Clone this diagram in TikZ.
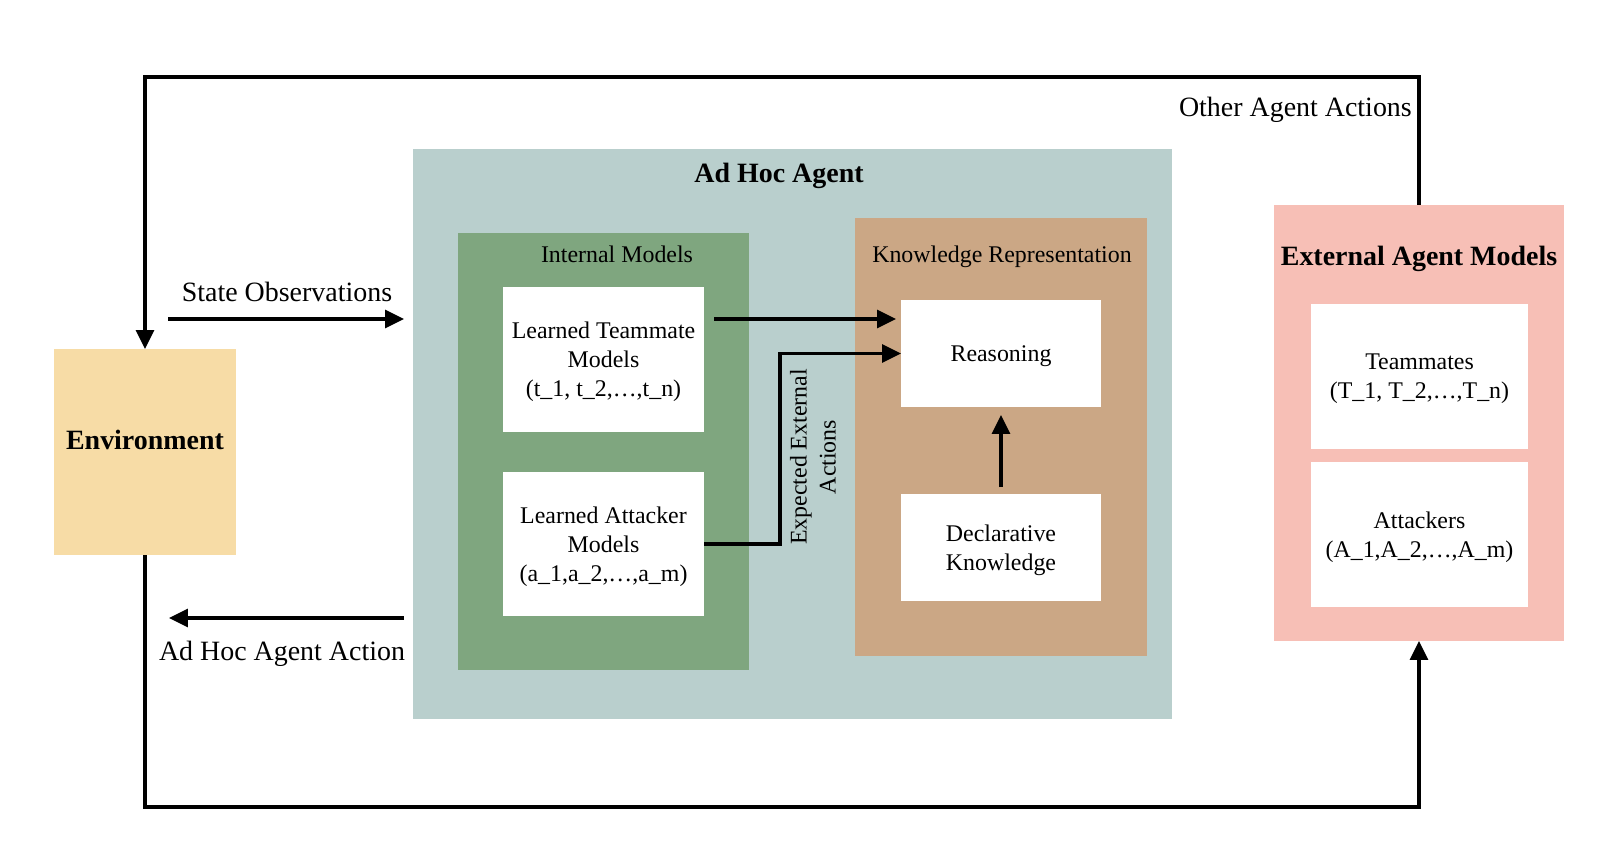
\documentclass[tikz,border=0pt]{standalone}
\usepackage{fontspec}
\setmainfont{Liberation Serif}
\usetikzlibrary{arrows.meta}

\definecolor{agentbg}{RGB}{185,207,205}
\definecolor{modelbg}{RGB}{127,166,127}
\definecolor{knowbg}{RGB}{203,167,133}
\definecolor{extbg}{RGB}{247,191,182}
\definecolor{envbg}{RGB}{247,220,166}

\newcommand{\bigtxt}{\fontsize{15.9}{19}\selectfont}
\newcommand{\smalltxt}{\fontsize{13.6}{16.5}\selectfont}

\begin{document}
\begin{tikzpicture}[x=2cm, y=-2cm, >={Triangle[length=10.8pt,width=10.2pt]},
    box/.style={inner sep=0pt, outer sep=0pt},
    card/.style={box, fill=white, align=center, font=\smalltxt, text depth=0pt},
    link/.style={line width=1.8pt}]
    \useasboundingbox (0,0) rectangle (16.24,8.62);

    % environment
    \node[box, fill=envbg, minimum width=3.64cm, minimum height=4.12cm] (env) at (1.45,4.52) {};
    \node[font=\bigtxt\bfseries] (envtxt) at (1.45,4.40) {Environment};

    % ad hoc agent and its two parts
    \node[box, fill=agentbg, minimum width=15.18cm, minimum height=11.4cm] (adhoc) at (7.925,4.34) {};
    \node[font=\bigtxt\bfseries] (adhoctxt) at (7.79,1.76) {Ad Hoc Agent};

    \node[box, fill=modelbg, minimum width=5.82cm, minimum height=8.74cm] (intm) at (6.035,4.515) {};
    \node[font=\smalltxt] (intmtxt) at (6.17,2.54) {Internal Models};
    \node[card, minimum width=4.02cm, minimum height=2.9cm] (team) at (6.035,3.595)
        {Learned Teammate\\Models\\(t\_1, t\_2,…,t\_n)};
    \node[card, minimum width=4.02cm, minimum height=2.88cm] (att) at (6.035,5.44)
        {Learned Attacker\\Models\\(a\_1,a\_2,…,a\_m)};

    \node[box, fill=knowbg, minimum width=5.84cm, minimum height=8.76cm] (know) at (10.01,4.37) {};
    \node[font=\smalltxt] (knowtxt) at (10.02,2.57) {Knowledge Representation};
    \node[card, minimum width=4cm, minimum height=2.14cm] (reason) at (10.01,3.535) {Reasoning};
    \node[card, minimum width=4cm, minimum height=2.14cm] (decl) at (10.01,5.475) {Declarative\\Knowledge};

    % external agents
    \node[box, fill=extbg, minimum width=5.8cm, minimum height=8.72cm] (ext) at (14.19,4.23) {};
    \node[font=\bigtxt\bfseries] (exttxt) at (14.19,2.59) {External Agent Models};
    \node[card, minimum width=4.34cm, minimum height=2.9cm] (tm) at (14.195,3.765) {Teammates\\(T\_1, T\_2,…,T\_n)};
    \node[card, minimum width=4.34cm, minimum height=2.9cm] (ak) at (14.195,5.345) {Attackers\\(A\_1,A\_2,…,A\_m)};

    % free ends of the outer arrows
    \coordinate (topleft) at (1.45,0.77);
    \coordinate (botleft) at (1.45,8.07);
    \coordinate (obsfrom) at (1.68,3.19);
    \coordinate (obsto) at (4.04,3.19);
    \coordinate (actfrom) at (4.04,6.18);
    \coordinate (actto) at (1.69,6.18);

    % outer loop
    \draw[link, ->] (ext.north) |- (topleft) -- (env.north);
    \draw[link, ->] (env.south) -- (botleft) -| (ext.south);
    \node[font=\bigtxt, anchor=east] (othtxt) at (14.18,1.10) {Other Agent Actions};

    % observations and actions
    \draw[link, ->] (obsfrom) -- (obsto);
    \node[font=\bigtxt] (obstxt) at (2.87,2.92) {State Observations};
    \draw[link, ->] (actfrom) -- (actto);
    \node[font=\bigtxt] (acttxt) at (2.82,6.54) {Ad Hoc Agent Action};

    % arrows inside the agent
    \draw[link, ->, shorten <=0.2cm, shorten >=0.1cm] ([yshift=0.81cm]team.east) -- ([yshift=0.69cm]reason.west);
    \draw[link, ->] (att.east) -- ++(0.76,0) |- (reason.west);
    \draw[link, ->, shorten <=0.14cm, shorten >=0.16cm] (decl.north) -- (reason.south);
    \node[font=\smalltxt, align=center, rotate=90] (exptxt) at (8.13,4.57) {Expected External\\Actions};
\end{tikzpicture}
\end{document}
